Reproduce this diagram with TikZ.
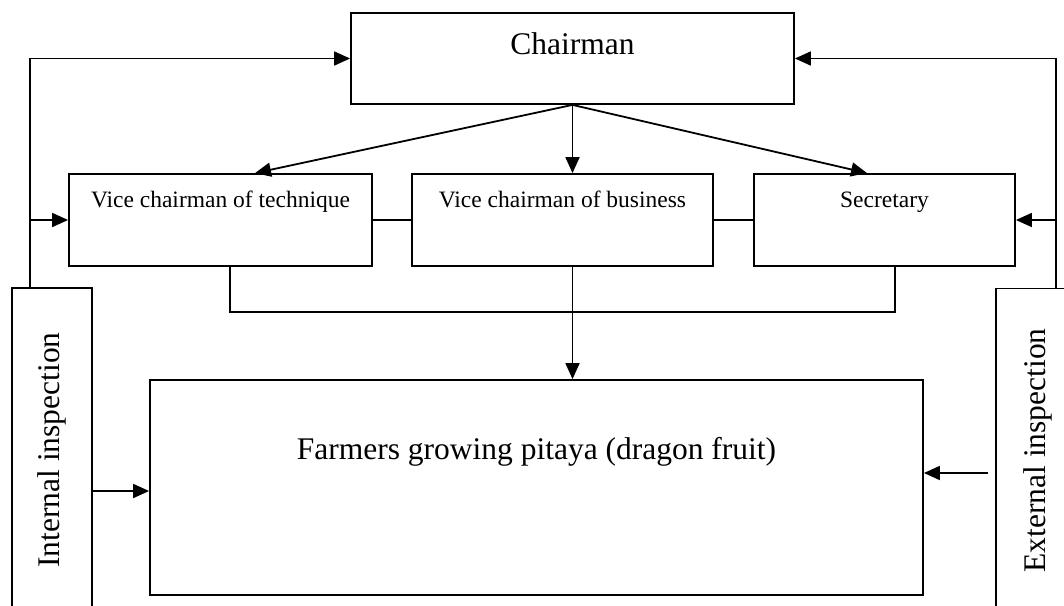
\documentclass[tikz,border=0pt]{standalone}
\usepackage{fontspec}
\setmainfont{Liberation Serif}
\usetikzlibrary{arrows.meta}

\begin{document}
\begin{tikzpicture}[x=1pt,y=-1pt,line width=1.8pt,>={Triangle[length=16pt,width=14pt]},
    box/.style={draw,rectangle,inner sep=0pt,anchor=base},
    bigtext/.style={font=\fontsize{31.5}{36}\selectfont},
    smalltext/.style={font=\fontsize{23.5}{28}\selectfont,text height=33pt,text depth=59pt},
    sidebox/.style={draw,rectangle,inner sep=0pt,rotate=90,anchor=center,minimum width=324pt,font=\fontsize{31.5}{36}\selectfont}]
    \useasboundingbox (0,0) rectangle (1064,605);

    \node[box,bigtext,minimum width=443pt,text height=41pt,text depth=50pt] (chair) at (572.5,54) {Chairman};
    \node[box,smalltext,minimum width=303pt] (tech) at (220.5,207) {Vice chairman of technique};
    \node[box,smalltext,minimum width=301pt] (bus) at (562.5,207) {Vice chairman of business};
    \node[box,smalltext,minimum width=261pt] (sec) at (884.5,207) {Secretary};
    \node[box,bigtext,minimum width=773pt,text height=79pt,text depth=136pt] (farm) at (536.5,459) {Farmers growing pitaya (dragon fruit)};
    \node[sidebox,minimum height=80pt] (intl) at (52,450) {Internal inspection};
    \node[sidebox,minimum height=84pt] (extl) at (1038,450.5) {External inspection};

    % inspection lines
    \coordinate (lx) at ([xshift=-22pt]intl.east);
    \coordinate (rx) at ([xshift=18pt]extl.east);
    \draw[->] (lx) |- (chair.west);
    \draw[->] (lx |- tech.west) -- (tech.west);
    \draw[->] (rx) |- (chair.east);
    \draw[->] (rx |- sec.east) -- (sec.east);

    % chairman to vices
    \draw[->] (chair.south) -- ([xshift=34.5pt]tech.north);
    \draw[->] (chair.south) -- (chair.south |- bus.north);
    \draw[->] (chair.south) -- ([xshift=-17.5pt]sec.north);
    \draw (tech.east) -- (bus.west);
    \draw (bus.east) -- (sec.west);

    % vices to farmers
    \coordinate (join) at (572.5,312);
    \draw ([xshift=9.5pt]tech.south) |- (join) -| ([xshift=10.5pt]sec.south);
    \draw[->] (chair.south |- bus.south) -- (chair.south |- farm.north);

    \coordinate (fin) at ([yshift=-3.5pt]farm.west);
    \draw[->] (intl.south |- fin) -- (fin);
    \coordinate (ein) at ([xshift=-7pt]extl.north);
    \coordinate (fout) at ([yshift=14.5pt]farm.east);
    \draw[->] (ein |- fout) -- (fout);
\end{tikzpicture}
\end{document}
